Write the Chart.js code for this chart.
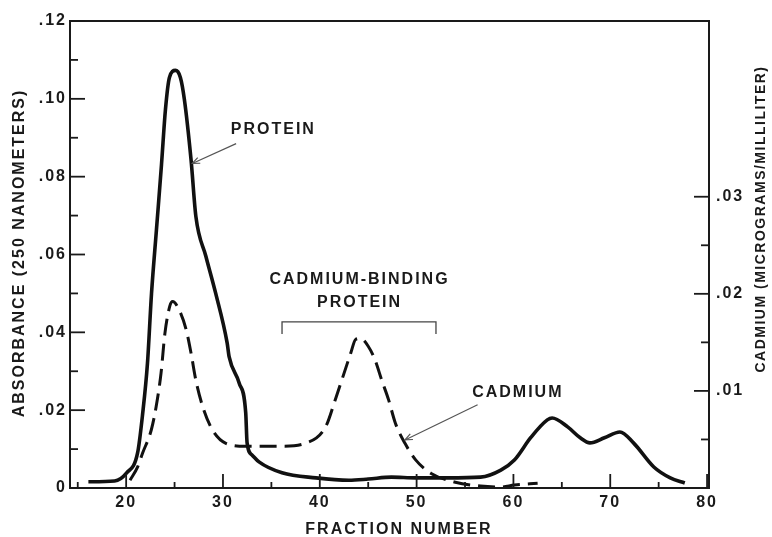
<!DOCTYPE html>
<html><head><meta charset="utf-8">
<script src="https://cdn.jsdelivr.net/npm/chart.js@4.4.1/dist/chart.umd.min.js"></script>
<style>html,body{margin:0;padding:0;background:#fff}#wrap{width:772px;height:537px}</style>
</head><body><div id="wrap"><canvas id="c" width="772" height="537"></canvas></div>
<script>
// ---- data ----
const proteinX = [16.1,18.8,20.05,21.18,21.7,22.2,22.62,23.13,23.65,24.06,24.47,25.09,25.6,26.01,26.7,27.2,28.24,29.25,30.43,30.64,31.67,32.35,32.49,33.0,33.72,36.1,39.6,43.0,45.0,47.4,49.9,53.2,56.6,58.7,60.1,61.8,63.5,64.0,65.6,66.9,67.9,69.4,71.0,72.4,74.5,76.2,77.7];
const proteinY = [0.0016,0.0018,0.0039,0.009,0.019,0.032,0.050,0.0664,0.0831,0.0973,0.1055,0.1073,0.1055,0.0999,0.0844,0.0698,0.0595,0.050,0.0373,0.0337,0.027,0.0193,0.0116,0.0085,0.0067,0.0039,0.0026,0.002,0.0023,0.0028,0.0026,0.0026,0.0028,0.0046,0.0072,0.013,0.0175,0.018,0.0157,0.0129,0.0116,0.0129,0.0144,0.0116,0.0054,0.0026,0.0013];
const cadmiumX = [20.4,21.2,21.7,22.6,23.1,23.6,24.0,24.5,24.8,25.5,26.2,26.7,27.2,27.9,28.9,30.3,32.4,36.1,38.5,40.6,41.6,43.2,43.7,44.2,45.0,45.7,46.4,47.1,47.8,48.8,49.9,51.5,54.0,56.6,58.7,60.1,62.5];
const cadmiumY = [0.0008,0.0022,0.0036,0.006,0.0084,0.0118,0.0159,0.0187,0.0192,0.0183,0.0163,0.0139,0.0111,0.0084,0.006,0.0046,0.0043,0.0043,0.0046,0.0063,0.0091,0.0139,0.0153,0.0154,0.0146,0.0132,0.0111,0.0091,0.0067,0.0046,0.0029,0.0015,0.0006,0.0002,0.0001,0.0003,0.0005];
const xTicks = [20,30,40,50,60,70,80];
const xMinorTicks = [15,25,35,45,55,65,75];
const leftTicks = [0,0.02,0.04,0.06,0.08,0.10,0.12];
const leftTickLabels = ['0','.02','.04','.06','.08','.10','.12'];
const leftMinorTicks = [0.01,0.03,0.05,0.07,0.09,0.11];
const rightTicks = [0.01,0.02,0.03];
const rightTickLabels = ['.01','.02','.03'];
const rightMinorTicks = [0.005,0.015,0.025];

// ---- annotation placement (data coordinates) ----
const labelsAt = [
  {text:'PROTEIN', x:35.1, y:0.0921},
  {text:'CADMIUM-BINDING', x:44.0, y:0.0535},
  {text:'PROTEIN', x:44.0, y:0.0476},
  {text:'CADMIUM', x:60.35, y:0.02445}
];
const arrows = [
  {x1:31.36, y1:0.0885, x2:26.83, y2:0.0834},
  {x1:56.3, y1:0.0214, x2:48.8, y2:0.01235}
];
const bracket = {x1:36.1, x2:52.0, y:0.0427, yEnd:0.0396};

const INK = '#1a1a1a';
const FONT = '"Liberation Sans", Arial, Helvetica, sans-serif';

const decor = {
  id:'decor',
  beforeDraw(chart){ chart.ctx.letterSpacing = '2px'; },
  afterDraw(chart){
    const ctx = chart.ctx, a = chart.chartArea;
    const sx = chart.scales.x, sy = chart.scales.y, sr = chart.scales.y1;
    ctx.save();
    ctx.strokeStyle = INK; ctx.lineWidth = 2;
    ctx.strokeRect(a.left, a.top, a.right - a.left, a.bottom - a.top);
    ctx.lineWidth = 1.8;
    const line = (x1,y1,x2,y2)=>{ctx.beginPath();ctx.moveTo(x1,y1);ctx.lineTo(x2,y2);ctx.stroke();};
    leftTicks.forEach(v=>{const y=sy.getPixelForValue(v); line(a.left,y,a.left+15,y);});
    leftMinorTicks.forEach(v=>{const y=sy.getPixelForValue(v); line(a.left,y,a.left+8,y);});
    rightTicks.forEach(v=>{const y=sr.getPixelForValue(v); line(a.right,y,a.right-15,y);});
    rightMinorTicks.forEach(v=>{const y=sr.getPixelForValue(v); line(a.right,y,a.right-8,y);});
    xTicks.forEach(v=>{const x=sx.getPixelForValue(v); line(x,a.bottom,x,a.bottom-14);});
    xMinorTicks.forEach(v=>{const x=sx.getPixelForValue(v); line(x,a.bottom,x,a.bottom-6);});
    // bracket
    const bx1=sx.getPixelForValue(bracket.x1), bx2=sx.getPixelForValue(bracket.x2);
    const by=sy.getPixelForValue(bracket.y), bye=sy.getPixelForValue(bracket.yEnd);
    ctx.strokeStyle='#444'; ctx.lineWidth=1.3;
    ctx.beginPath(); ctx.moveTo(bx1,bye); ctx.lineTo(bx1,by); ctx.lineTo(bx2,by); ctx.lineTo(bx2,bye); ctx.stroke();
    // arrows
    ctx.strokeStyle='#555'; ctx.lineWidth=1.2;
    arrows.forEach(ar=>{
      const x1=sx.getPixelForValue(ar.x1), y1=sy.getPixelForValue(ar.y1);
      const x2=sx.getPixelForValue(ar.x2), y2=sy.getPixelForValue(ar.y2);
      line(x1,y1,x2,y2);
      const ang=Math.atan2(y2-y1,x2-x1), L=8;
      ctx.beginPath();
      ctx.moveTo(x2-L*Math.cos(ang-0.4), y2-L*Math.sin(ang-0.4));
      ctx.lineTo(x2,y2);
      ctx.lineTo(x2-L*Math.cos(ang+0.4), y2-L*Math.sin(ang+0.4));
      ctx.stroke();
    });
    // labels
    ctx.fillStyle = INK; ctx.textAlign='center'; ctx.textBaseline='middle';
    ctx.font = 'bold 16px ' + FONT;
    ctx.letterSpacing='2px';
    labelsAt.forEach(l=>{ ctx.fillText(l.text, sx.getPixelForValue(l.x)+1, sy.getPixelForValue(l.y)); });
    // axis titles
    ctx.fillText('FRACTION NUMBER', 399, 530);
    ctx.save(); ctx.translate(20, 253); ctx.rotate(-Math.PI/2);
    ctx.fillText('ABSORBANCE (250 NANOMETERS)', 0, 0); ctx.restore();
    ctx.save(); ctx.translate(761, 219); ctx.rotate(-Math.PI/2);
    ctx.font = 'bold 14px ' + FONT; ctx.letterSpacing='1.5px';
    ctx.fillText('CADMIUM (MICROGRAMS/MILLILITER)', 0, 0); ctx.restore();
    ctx.restore();
  }
};

const tickFont = {family: FONT, size: 16, weight: 'bold'};
new Chart(document.getElementById('c'), {
  type: 'line',
  data: {
    datasets: [
      {label:'PROTEIN', data: proteinX.map((x,i)=>({x, y: proteinY[i]})), yAxisID:'y',
       borderColor:'#111', borderWidth:3.6, pointRadius:0, fill:false, cubicInterpolationMode:'monotone'},
      {label:'CADMIUM', data: cadmiumX.map((x,i)=>({x, y: cadmiumY[i]})), yAxisID:'y1',
       borderColor:'#111', borderWidth:3, borderDash:[17,8], pointRadius:0, fill:false, cubicInterpolationMode:'monotone'}
    ]
  },
  options: {
    responsive:false, animation:false,
    layout:{padding:{top:21, left:0, right:0, bottom:0}},
    plugins:{legend:{display:false}, tooltip:{enabled:false}},
    scales:{
      x:{type:'linear', min:14.2, max:80.2,
         afterBuildTicks:s=>{s.ticks = xTicks.map(v=>({value:v}));},
         afterFit:s=>{s.height = 49;},
         grid:{display:false, drawTicks:false}, border:{display:false},
         ticks:{font:tickFont, color:INK, padding:5, maxRotation:0, autoSkip:false, callback:v=>String(v)}},
      y:{type:'linear', position:'left', min:0, max:0.12,
         afterBuildTicks:s=>{s.ticks = leftTicks.map(v=>({value:v}));},
         afterFit:s=>{s.width = 70;},
         grid:{display:false, drawTicks:false}, border:{display:false},
         ticks:{font:tickFont, color:INK, padding:3, autoSkip:false, callback:(v,i)=>leftTickLabels[i]}},
      y1:{type:'linear', position:'right', min:0, max:0.0481,
         afterBuildTicks:s=>{s.ticks = rightTicks.map(v=>({value:v}));},
         afterFit:s=>{s.width = 63;},
         grid:{display:false, drawTicks:false}, border:{display:false},
         ticks:{font:tickFont, color:INK, padding:7, autoSkip:false, callback:(v,i)=>rightTickLabels[i]}}
    }
  },
  plugins:[decor]
});
</script></body></html>
